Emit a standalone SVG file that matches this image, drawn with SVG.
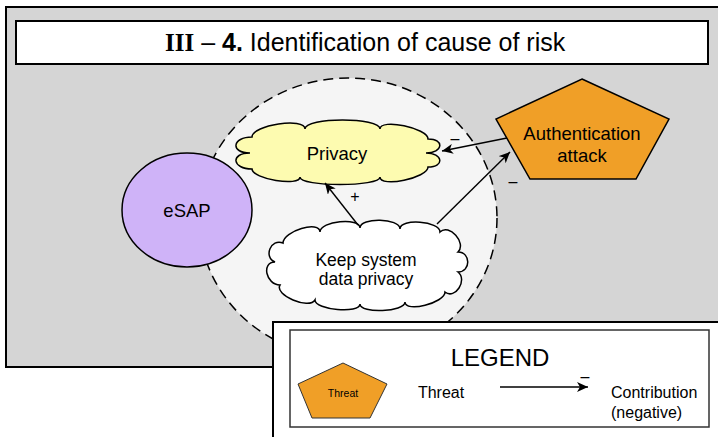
<svg xmlns="http://www.w3.org/2000/svg" width="718" height="437" viewBox="0 0 718 437">
<style>
text{font-family:"Liberation Sans",Arial,sans-serif;fill:#000}
.lbl{font-size:18.5px;text-anchor:middle}
.sign{font-size:16px;text-anchor:middle}
.edge{fill:none;stroke:#000;stroke-width:1.4;marker-end:url(#ah)}
.node{stroke:#000;stroke-width:1.5}
</style>
<defs>
<marker id="ah" markerWidth="12" markerHeight="10" refX="11" refY="5" orient="auto" markerUnits="userSpaceOnUse">
<path d="M0,0 L11,5 L0,10 L3,5 z" fill="#000"/>
</marker>
</defs>
<rect x="6" y="7" width="720" height="360" fill="#d5d5d5" stroke="#000" stroke-width="2"/>
<g id="title">
<rect x="16" y="21" width="692" height="43" fill="#fff" stroke="#000" stroke-width="2"/>
<text x="165" y="51" font-size="25"><tspan font-family="'Liberation Serif',serif" font-weight="bold">III</tspan> – <tspan font-weight="bold">4.</tspan> Identification of cause of risk</text>
</g>
<g id="boundary">
<ellipse cx="348" cy="218" rx="149" ry="140" fill="#f5f5f5" stroke="#000" stroke-width="1.5" stroke-dasharray="10 6"/>
</g>
<g id="esap">
<ellipse class="node" cx="187" cy="210" rx="65" ry="57" fill="#cfb3f8"/>
<text class="lbl" x="187" y="216.5">eSAP</text>
</g>
<g id="privacy">
<path class="node" fill="#fdfbb0" d="M250,153 C230,153 232,137 252,137 C252,125 305,117 305,129 C305,117 380,117 380,129 C380,118 428,128 428,139 C445,139 443,153 426,153 C443,153 445,167 428,167 C428,178 380,188 380,177 C380,187 300,187 300,177 C300,187 252,179 252,169 C232,169 230,153 250,153 Z"/>
<text class="lbl" x="337" y="159.5">Privacy</text>
</g>
<g id="keep-system-data-privacy">
<path class="node" fill="#fff" d="M275,262 C263,257 271,238 283,243 C283,231 320,220 320,232 C320,221 360,217 360,228 C360,217 400,218 400,229 C400,218 440,221 440,232 C449,223 467,243 458,252 C471,252 471,272 458,272 C468,280 455,300 445,292 C445,303 405,313 405,302 C405,312 360,314 360,304 C360,314 315,310 315,300 C309,310 274,295 280,285 C266,285 261,262 275,262 Z"/>
<text class="lbl" font-size="17.5" x="366" y="266" style="font-size:17.5px">Keep system</text>
<text class="lbl" x="366" y="284.5" style="font-size:17.5px">data privacy</text>
</g>
<g id="authentication-attack">
<polygon class="node" points="582,79 669,119 636,179 530,179 496,119" fill="#f09f27"/>
<text class="lbl" x="582" y="139.5">Authentication</text>
<text class="lbl" x="582" y="161.5">attack</text>
</g>
<g id="connectors">
<line class="edge" x1="358" y1="225" x2="325" y2="183"/>
<line class="edge" x1="437" y1="224" x2="510" y2="152"/>
<line class="edge" x1="507" y1="138" x2="442" y2="151"/>
<text class="sign" x="355" y="202">+</text>
<text class="sign" x="455" y="144">–</text>
<text class="sign" x="513" y="187">–</text>
</g>
<g id="legend">
<rect x="273" y="322" width="460" height="130" fill="#fff" stroke="#000" stroke-width="2"/>
<rect x="290" y="330" width="419" height="97" fill="#fff" stroke="#333" stroke-width="1.5"/>
<text x="500" y="366" font-size="24" text-anchor="middle">LEGEND</text>
<g id="legend-threat">
<polygon points="343,363 387,384 370,418 312,418 298,384" fill="#f09f27" stroke="#333" stroke-width="1"/>
<text x="343" y="397" font-size="10.5" text-anchor="middle">Threat</text>
</g>
<text x="441" y="398" font-size="16" text-anchor="middle">Threat</text>
<line class="edge" x1="500" y1="387" x2="588" y2="387"/>
<text class="sign" x="585" y="382">–</text>
<text x="611" y="398" font-size="16">Contribution</text>
<text x="611" y="418" font-size="16">(negative)</text>
</g>
</svg>
